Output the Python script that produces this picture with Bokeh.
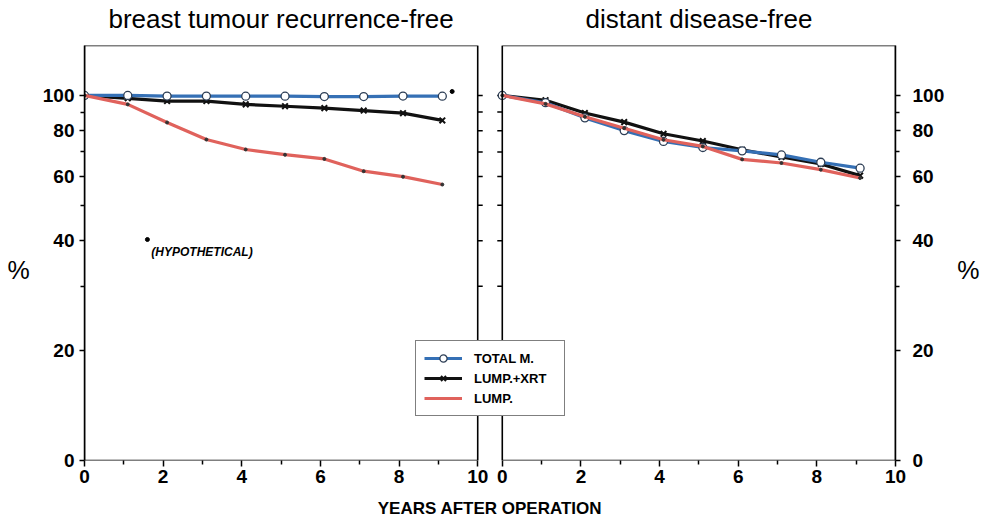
import numpy as np
from bokeh.plotting import figure
from bokeh.models import (Range1d, LogAxis, LinearAxis, FixedTicker, BoxAnnotation,
                          Legend, LegendItem, Label)
from bokeh.embed import file_html
from bokeh.resources import INLINE

# ---------------- data ----------------
years = [0, 1.1, 2.1, 3.1, 4.1, 5.1, 6.1, 7.1, 8.1, 9.1]

# breast tumour recurrence-free (%)
local_total_m = [100, 100, 99.6, 99.6, 99.5, 99.5, 99.3, 99.3, 99.6, 99.5]
local_lump_xrt = [100, 98.2, 96.5, 96.5, 94.5, 93.4, 92.3, 90.9, 89.4, 85.4]
local_lump = [100, 94.5, 84.3, 75.7, 71.1, 68.8, 67.0, 62.0, 59.9, 57.0]

# distant disease-free (%)
distant_total_m = [100, 95.5, 86.8, 80.1, 74.8, 72.0, 70.5, 68.7, 65.6, 63.2]
distant_lump_xrt = [100, 97.0, 89.5, 84.5, 78.5, 75.0, 71.0, 67.8, 64.9, 60.3]
distant_lump = [100, 94.8, 87.4, 81.3, 75.6, 72.5, 66.8, 65.3, 62.6, 59.4]

# hypothetical points
hyp_x = [1.6, 9.35]
hyp_y = [40.3, 102.5]

titles = ["breast tumour recurrence-free", "distant disease-free"]
series_names = ["TOTAL M.", "LUMP.+XRT", "LUMP."]

y_major = [10, 20, 40, 60, 80, 100]
y_labels = ["0", "20", "40", "60", "80", "100"]
y_minor = [30, 50, 70, 90]
x_major = [0, 2, 4, 6, 8, 10]
x_minor = [1, 3, 5, 7, 9]

# ---------------- styling ----------------
BLUE = "#3570b5"
BLACK = "#111111"
RED = "#e0625c"
FONT = "Liberation Sans"
GAP = 0.625  # gap between panels in x units
PANEL = 10

p = figure(width=987, height=521,
           x_range=Range1d(0, PANEL + GAP + PANEL),
           y_range=Range1d(10, 137), y_axis_type="log",
           output_backend="svg", toolbar_location=None,
           min_border_left=84, min_border_right=92,
           min_border_top=45, min_border_bottom=61,
           outline_line_color=None, background_fill_color="white",
           border_fill_color="white")
p.extra_x_ranges = {"right": Range1d(-(PANEL + GAP), PANEL)}
p.xgrid.visible = False
p.ygrid.visible = False


def style_y(ax, standoff):
    ax.major_tick_out = 5
    ax.major_tick_in = 0
    ax.minor_tick_out = 4
    ax.minor_tick_in = 0
    ax.axis_line_width = 1.5
    ax.axis_line_color = "black"
    ax.major_tick_line_width = 1.5
    ax.minor_tick_line_width = 1.5
    ax.major_label_text_font = FONT
    ax.major_label_text_font_style = "bold"
    ax.major_label_text_font_size = "19px"
    ax.major_label_text_color = "black"
    ax.major_label_standoff = standoff
    ax.axis_label = "\n%"
    ax.axis_label_orientation = "horizontal"
    ax.axis_label_text_font = FONT
    ax.axis_label_text_font_style = "normal"
    ax.axis_label_text_font_size = "25px"
    ax.axis_label_text_color = "black"
    ax.axis_label_standoff = 10


# ---- left y axis
ya = p.yaxis[0]
ya.ticker = FixedTicker(ticks=y_major, minor_ticks=y_minor)
ya.major_label_overrides = {t: l for t, l in zip(y_major, y_labels)}
style_y(ya, 5)

# ---- right y axis
ra = LogAxis(ticker=FixedTicker(ticks=y_major, minor_ticks=y_minor),
             major_label_overrides={t: l for t, l in zip(y_major, y_labels)})
style_y(ra, 12)
p.add_layout(ra, "right")

# ---- bottom x axis (both panels share one axis row)
xa = p.xaxis[0]
offset = PANEL + GAP
bt = [float(t) for t in x_major] + [t + offset for t in x_major]
bm = [float(t) for t in x_minor] + [t + offset for t in x_minor]
bl = [str(t) for t in x_major] * 2
xa.ticker = FixedTicker(ticks=bt, minor_ticks=bm)
xa.major_label_overrides = {t: l for t, l in zip(bt, bl)}
xa.axis_line_color = None
xa.major_tick_out = 6
xa.major_tick_in = 0
xa.minor_tick_out = 4
xa.minor_tick_in = 0
xa.major_tick_line_width = 1.5
xa.minor_tick_line_width = 1.5
xa.major_label_text_font = FONT
xa.major_label_text_font_style = "bold"
xa.major_label_text_font_size = "19px"
xa.major_label_text_color = "black"
xa.major_label_standoff = 3
xa.axis_label = "YEARS AFTER OPERATION"
xa.axis_label_text_font = FONT
xa.axis_label_text_font_style = "bold"
xa.axis_label_text_font_size = "17px"
xa.axis_label_text_color = "black"
xa.axis_label_standoff = 13

# ---- panel titles as an axis above
ta = LinearAxis(ticker=FixedTicker(ticks=[PANEL / 2, offset + PANEL / 2], minor_ticks=[]),
                major_label_overrides={PANEL / 2: titles[0], offset + PANEL / 2: titles[1]},
                axis_line_color=None, major_tick_line_color=None, minor_tick_line_color=None,
                major_tick_out=0, major_tick_in=0,
                major_label_text_font=FONT, major_label_text_font_size="26px",
                major_label_text_color="black", major_label_standoff=12)
p.add_layout(ta, "above")

# ---- panel frames
left_box = BoxAnnotation(left=0, right=PANEL, fill_color=None, fill_alpha=0,
                         line_color="black", line_alpha=1, line_width=1.6)
right_box = BoxAnnotation(left=0, right=PANEL, fill_color=None, fill_alpha=0,
                          line_color="black", line_alpha=1, line_width=1.6,
                          x_range_name="right")
p.add_layout(left_box)
p.add_layout(right_box)

# inner-border ticks
all_y = y_major[1:] + y_minor
p.ray(x=[PANEL] * len(all_y), y=all_y, length=5, angle=0, length_units="screen",
      line_color="black", line_width=1.5)
p.ray(x=[0] * len(all_y), y=all_y, length=5, angle=np.pi, length_units="screen",
      line_color="black", line_width=1.5, x_range_name="right")


# ---------------- series ----------------
def draw(xr, ys_black, ys_blue, ys_red):
    kw = {} if xr is None else {"x_range_name": xr}
    r = {}
    r["k_line"] = p.line(years, ys_black, line_color=BLACK, line_width=3.2, line_join="round", **kw)
    r["k_pts"] = p.scatter(years, ys_black, marker="x", size=8, line_color=BLACK, line_width=2, **kw)
    r["b_line"] = p.line(years, ys_blue, line_color=BLUE, line_width=3.2, line_join="round", **kw)
    r["b_pts"] = p.scatter(years, ys_blue, marker="circle", size=8, fill_color="white",
                           line_color="#2d3e55", line_width=1.3, **kw)
    r["r_line"] = p.line(years, ys_red, line_color=RED, line_width=3.2, line_join="round", **kw)
    r["r_pts"] = p.scatter(years, ys_red, marker="circle", size=3, fill_color="#333333",
                           line_color="#333333", **kw)
    return r


L = draw(None, local_lump_xrt, local_total_m, local_lump)
R = draw("right", distant_lump_xrt, distant_total_m, distant_lump)

# hypothetical marks
p.scatter(hyp_x, hyp_y, marker="circle", size=4, color="black")
p.add_layout(Label(x=hyp_x[0] + 0.1, y=37.3, text="(HYPOTHETICAL)", text_font=FONT,
                   text_font_style="bold italic", text_font_size="12px",
                   text_baseline="middle", text_color="black"))

# ---------------- legend ----------------
legend = Legend(items=[
    LegendItem(label=series_names[0], renderers=[L["b_line"], L["b_pts"]]),
    LegendItem(label=series_names[1], renderers=[L["k_line"], L["k_pts"]]),
    LegendItem(label=series_names[2], renderers=[L["r_line"]]),
], location=(331, 44))
legend.margin = 0
legend.padding = 8
legend.spacing = 2
legend.glyph_width = 38
legend.glyph_height = 18
legend.label_height = 18
legend.label_width = 82
legend.label_standoff = 12
legend.label_text_font = FONT
legend.label_text_font_style = "bold"
legend.label_text_font_size = "13px"
legend.label_text_color = "black"
legend.border_line_color = "black"
legend.border_line_width = 1.5
legend.background_fill_color = "white"
legend.background_fill_alpha = 1
p.add_layout(legend)

open("out.html", "w").write(file_html(p, INLINE))
